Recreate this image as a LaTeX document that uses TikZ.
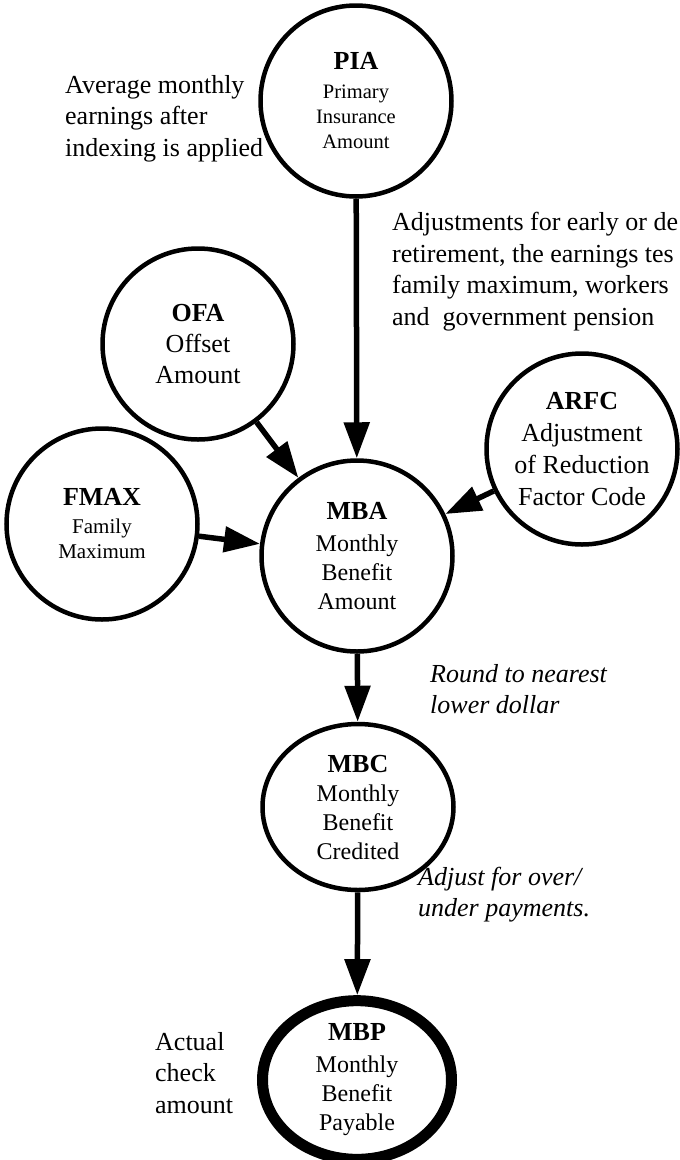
\documentclass[tikz,border=0pt]{standalone}
\usepackage{fontspec}
\setmainfont{Liberation Serif}
\usetikzlibrary{arrows.meta,shapes.geometric}
\newcommand{\fs}[2]{\fontsize{#1}{#2}\selectfont}
\begin{document}
\begin{tikzpicture}[x=1pt,y=-1pt,
  circ/.style={circle,draw,line width=4.5pt,minimum size=191pt,inner sep=0pt,align=center},
  ell/.style={ellipse,draw,line width=4.5pt,minimum width=191pt,minimum height=166pt,inner sep=0pt,align=center},
  thickell/.style={ellipse,draw,line width=11pt,minimum width=189pt,minimum height=140pt,inner sep=0pt,align=center},
  arr/.style={line width=5.5pt,-{Triangle[length=36pt,width=25pt]}},
  note/.style={anchor=north west,inner sep=0pt,align=left,font=\fs{26}{31.5}},
  inote/.style={note,font=\fs{26}{31}\itshape}
]
\useasboundingbox (0,0) rectangle (680,1160);

\node[circ,font=\fs{20.5}{25}] (pia) at (356,101) {{\fs{26}{30}\bfseries PIA}\\[4pt]Primary\\Insurance\\Amount};
\node[circ,font=\fs{26}{31}] (ofa) at (198,344) {{\bfseries OFA}\\Offset\\Amount};
\node[circ,font=\fs{26}{32}] (arfc) at (582,449) {{\bfseries ARFC}\\Adjustment\\of Reduction\\Factor Code};
\node[circ,font=\fs{21}{25}] (fmax) at (102,524) {{\fs{26}{30}\bfseries FMAX}\\[3pt]Family\\Maximum};
\node[circ,font=\fs{24}{29}] (mba) at (357,556) {{\fs{26}{30}\bfseries MBA}\\[3pt]Monthly\\Benefit\\Amount};
\node[ell,font=\fs{24}{29}] (mbc) at (358,807) {{\fs{26}{30}\bfseries MBC}\\Monthly\\Benefit\\Credited};
\node[thickell,font=\fs{24}{29}] (mbp) at (357,1080) {{\fs{26}{30}\bfseries MBP}\\[3pt]Monthly\\Benefit\\Payable};

\draw[arr] (pia) -- (mba);
\draw[arr] (ofa) -- (mba);
\draw[arr] (fmax) -- (mba);
\draw[arr] (arfc) -- (mba);
\draw[arr] (mba) -- (mbc);
\draw[arr] (mbc) -- (mbp);

\node[note] (avg) at (65,75) {Average monthly\\earnings after\\indexing is applied};
\node[note] (adj) at (392,212) {Adjustments for early or de\\retirement, the earnings tes\\family maximum, workers\\and\ \ government pension};
\node[inote] (round) at (430,664) {Round to nearest\\lower dollar};
\node[inote] (over) at (418,867) {Adjust for over/\\under payments.};
\node[note] (actual) at (155,1032) {Actual\\check\\amount};
\end{tikzpicture}
\end{document}
